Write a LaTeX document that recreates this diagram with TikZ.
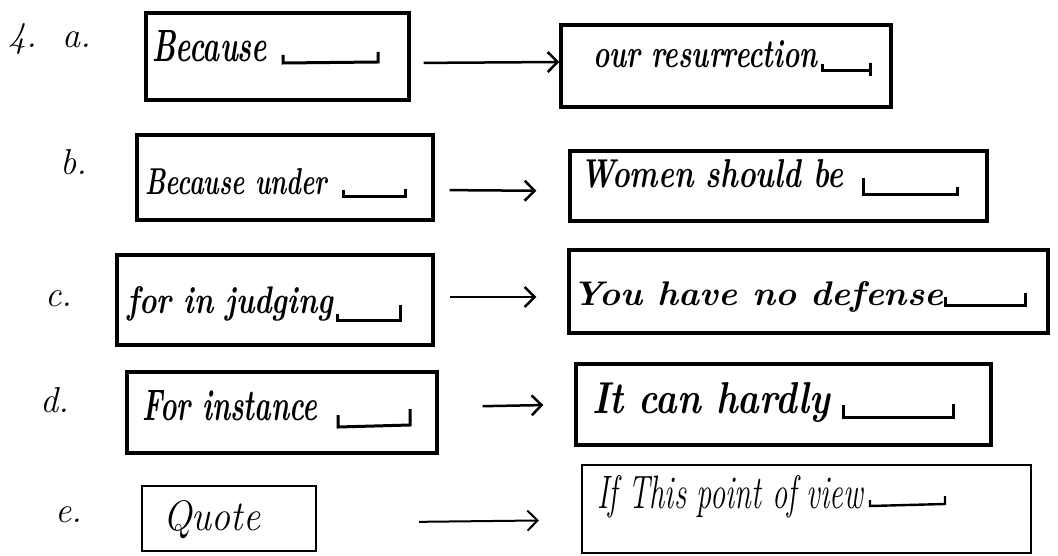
\documentclass[tikz,border=0pt]{standalone}
\usepackage{fontspec}
\usepackage{graphicx}
\usetikzlibrary{arrows.meta}
\newcommand{\hwfont}{\fontsize{30}{36}\selectfont\bfseries\itshape}
\newcommand{\hwlight}{\fontsize{30}{36}\selectfont\itshape}
\newcommand{\lblfont}{\fontsize{36}{40}\selectfont\itshape}
\newcommand{\hwtxt}[3]{\resizebox{#1pt}{#2pt}{#3}}
\tikzset{
  box/.style={draw, line width=3.2pt, inner sep=0pt},
  thinbox/.style={draw, line width=2.2pt, inner sep=0pt},
  txt/.style={anchor=base west, inner sep=0pt, font=\hwfont},
  lighttxt/.style={anchor=base west, inner sep=0pt, font=\hwlight},
  lbl/.style={anchor=base west, inner sep=0pt, font=\lblfont},
  blank/.style={line width=3pt, line join=miter},
  arr/.style={line width=2.5pt, -{Straight Barb[length=10pt,width=20pt]}}
}
\begin{document}
\begin{tikzpicture}[x=1pt,y=-1pt]
\fill[white] (0,0) rectangle (1058,556);
\path[use as bounding box] (0,0) rectangle (1058,556);

% ---- labels
\node[lbl] (n4) at (8,48) {4.};
\node[lbl] (la) at (62,48) {a.};
\node[lbl] (lb) at (60,175) {b.};
\node[lbl] (lc) at (45,306) {c.};
\node[lbl] (ld) at (40,412) {d.};
\node[lbl] (le) at (55,522) {e.};

% ---- boxes
\node[box, minimum width=263pt, minimum height=87pt] (aL) at (277.5,56.5) {};
\node[box, minimum width=330pt, minimum height=82pt] (aR) at (726,66) {};
\node[box, minimum width=296pt, minimum height=85pt] (bL) at (285,177.5) {};
\node[box, minimum width=417pt, minimum height=70pt] (bR) at (778.5,186) {};
\node[box, minimum width=316pt, minimum height=90pt] (cL) at (275,300) {};
\node[box, minimum width=479pt, minimum height=83pt] (cR) at (808.5,291.5) {};
\node[box, minimum width=310pt, minimum height=81pt] (dL) at (282,412.5) {};
\node[box, minimum width=415pt, minimum height=81pt] (dR) at (783.5,404.5) {};
\node[thinbox, minimum width=174pt, minimum height=65pt] (eL) at (229,518.5) {};
\node[thinbox, minimum width=449pt, minimum height=88pt] (eR) at (806.5,509) {};

% ---- texts
\node[txt] (taL) at (152,62) {\hwtxt{115}{31}{Because}};
\node[txt] (taR) at (593,68) {\hwtxt{224}{27}{our resurrection}};
\node[txt] (tbL) at (145,195) {\hwtxt{182}{26}{Because under}};
\node[txt] (tbR) at (580,188) {\hwtxt{263}{28}{Women should be}};
\node[txt] (tcL) at (127,313) {\hwtxt{206}{27}{for in judging}};
\node[txt] (tcR) at (572,305) {\hwtxt{371}{24}{You have no defense}};
\node[txt] (tdL) at (142,420) {\hwtxt{175}{30}{For instance}};
\node[txt] (tdR) at (592,413) {\hwtxt{238}{31}{It can hardly}};
\node[lighttxt] (teL) at (163,530) {\hwtxt{97}{30}{Quote}};
\node[lighttxt] (teR) at (597,508) {\hwtxt{266}{33}{If This point of view}};

% ---- blanks
\draw[blank] (283,55) -- (283,63) -- (378,62) -- (378,52);
\draw[blank] (822,64) -- (822,71) -- (870,71) -- (870,63) -- (870,76);
\draw[blank] (343,190) -- (343,197) -- (405,197) -- (405,189);
\draw[blank] (863,178) -- (863,195) -- (957,195) -- (957,187);
\draw[blank] (337,314) -- (337,320) -- (400,320) -- (400,305);
\draw[blank] (945,297) -- (945,305) -- (1025,305) -- (1025,293);
\draw[blank] (338,415) -- (338,427) -- (410,425) -- (410,409);
\draw[blank] (843,405) -- (843,417) -- (953,417) -- (953,404);
\draw[blank, line width=2.4pt] (870,500) -- (870,506) -- (945,504) -- (945,496);

% ---- arrows
\draw[arr, shorten <=13pt] ([yshift=-6.5pt]aL.east) -- ([yshift=4pt]aR.west);
\draw[arr, shorten <=15pt, shorten >=32pt] ([yshift=-12.5pt]bL.east) -- ([yshift=-5pt]bR.west);
\draw[arr, shorten <=15pt, shorten >=31pt] ([yshift=3pt]cL.east) -- ([yshift=-5.5pt]cR.west);
\draw[arr, shorten <=44pt, shorten >=31pt] ([yshift=5.5pt]dL.east) -- (dR.west);
\draw[arr, line width=2pt, shorten <=102pt, shorten >=42pt] ([yshift=-4.5pt]eL.east) -- ([yshift=-11pt]eR.west);
\end{tikzpicture}
\end{document}
